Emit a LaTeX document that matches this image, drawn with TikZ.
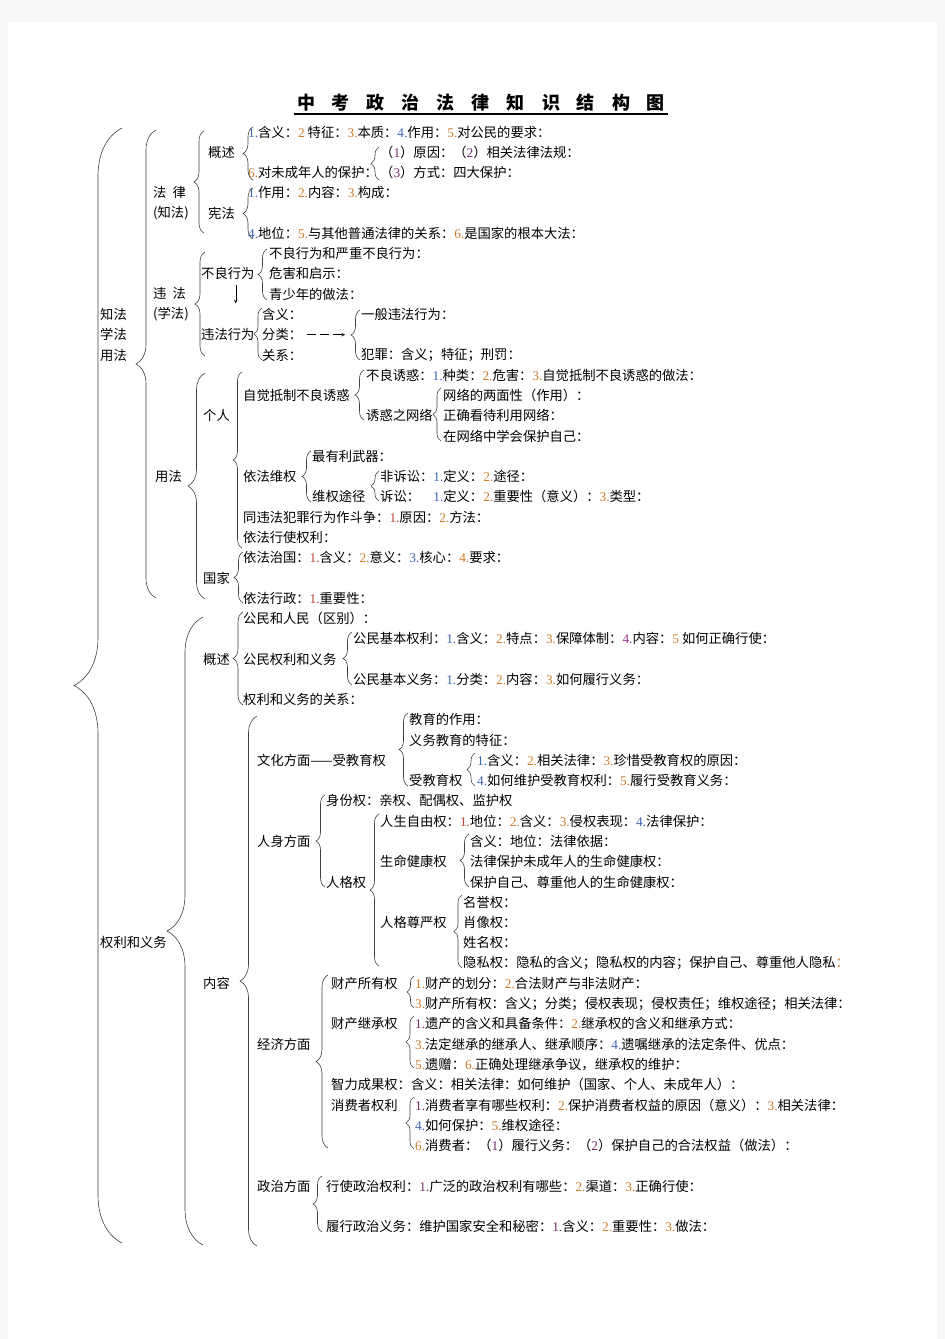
\documentclass[tikz,border=0pt]{standalone}
\usepackage{fontspec}
\setmainfont{Noto Sans CJK SC}
\newfontfamily\numf{Liberation Serif}
\usetikzlibrary{decorations.pathreplacing}

\definecolor{numblue}{RGB}{60,100,185}
\definecolor{numorange}{RGB}{205,125,45}
\definecolor{numpurple}{RGB}{115,45,105}
\definecolor{numred}{RGB}{190,70,50}
\definecolor{nummag}{RGB}{165,50,140}
\newcommand{\nb}[1]{{\numf\color{numblue}#1}}
\newcommand{\no}[1]{{\numf\color{numorange}#1}}
\newcommand{\np}[1]{{\numf\color{numpurple}#1}}
\newcommand{\nr}[1]{{\numf\color{numred}#1}}
\newcommand{\nm}[1]{{\numf\color{nummag}#1}}
\newcommand{\ry}[1]{132+20.27*#1}
\newcommand{\tsp}{\hspace{17pt}}
\newcommand{\brc}[4]{\draw[brc=#4] (#1,#3) -- (#1,#2);}

\tikzset{
  txt/.style={anchor=west, inner sep=0pt, font=\fontsize{13.3}{20.27}\selectfont},
  brc/.style={decorate, decoration={brace, amplitude=#1}, draw=black!75, line width=0.6pt},
}

\begin{document}
\begin{tikzpicture}[x=1pt, y=-1pt]
  \useasboundingbox (0,0) rectangle (945,1339);
  \fill[gray!6] (0,0) rectangle (945,1339);
  \fill[white] (8,22) rectangle (937,1339);

  % title
  \node[inner sep=0pt, font=\fontsize{18}{20}\selectfont\bfseries] (title) at (481,103)
    {中\tsp 考\tsp 政\tsp 治\tsp 法\tsp 律\tsp 知\tsp 识\tsp 结\tsp 构\tsp 图};
  \draw[line width=1.6pt] ([xshift=-3pt,yshift=-2pt]title.south west) -- ([xshift=3pt,yshift=-2pt]title.south east);

  % first levels
  \node[txt, align=left] (zxy) at (100,{\ry{10}}) {知法\\学法\\用法};
  \node[txt] (qy) at (100,{\ry{40}}) {权利和义务};
  \node[txt, align=left] (falv) at (153,{\ry{3.5}}) {法\hspace{6pt}律\\(知法)};
  \node[txt, align=left] (weifa) at (153,{\ry{8.5}}) {违\hspace{6pt}法\\(学法)};
  \node[txt] (yf) at (155,{\ry{17}}) {用法};

  % 法律
  \node[txt] (gs1) at (208,{\ry{1}}) {概述};
  \node[txt] (n1a) at (248,{\ry{0}}) {\nb{1.}含义：\no{2} 特征：\no{3.}本质：\nb{4.}作用：\no{5.}对公民的要求：};
  \node[txt] (n1b) at (380,{\ry{1}}) {（\np{1}）原因：（\np{2}）相关法律法规：};
  \node[txt] (n1c) at (248,{\ry{2}}) {\no{6.}对未成年人的保护：};
  \node[txt] (n1d) at (380,{\ry{2}}) {（\np{3}）方式：四大保护：};
  \node[txt] (xianfa) at (208,{\ry{4}}) {宪法};
  \node[txt] (xf1) at (248,{\ry{3}}) {\nb{1.}作用：\no{2.}内容：\no{3.}构成：};
  \node[txt] (xf2) at (248,{\ry{5}}) {\nb{4.}地位：\no{5.}与其他普通法律的关系：\no{6.}是国家的根本大法：};

  % 违法
  \node[txt] (bl) at (201,{\ry{7}}) {不良行为};
  \node[txt] (bl1) at (269,{\ry{6}}) {不良行为和严重不良行为：};
  \node[txt] (bl2) at (269,{\ry{7}}) {危害和启示：};
  \node[txt] (bl3) at (269,{\ry{8}}) {青少年的做法：};
  \node[txt] (wfxw) at (201,{\ry{10}}) {违法行为};
  \node[txt] (wf1) at (262,{\ry{9}}) {含义：};
  \node[txt] (wf2) at (262,{\ry{10}}) {分类：};
  \node[txt] (wf3) at (262,{\ry{11}}) {关系：};
  \node[txt] (wf4) at (361,{\ry{9}}) {一般违法行为：};
  \node[txt] (wf5) at (361,{\ry{11}}) {犯罪：含义；特征；刑罚：};
  \coordinate (fltip) at (351,{\ry{10}});

  % 用法 - 个人
  \node[txt] (gr) at (203,{\ry{14}}) {个人};
  \node[txt] (zj) at (243,{\ry{13}}) {自觉抵制不良诱惑};
  \node[txt] (yh1) at (366,{\ry{12}}) {不良诱惑：\nb{1.}种类：\no{2.}危害：\no{3.}自觉抵制不良诱惑的做法：};
  \node[txt] (yh2) at (366,{\ry{14}}) {诱惑之网络};
  \node[txt] (wl1) at (443,{\ry{13}}) {网络的两面性（作用）：};
  \node[txt] (wl2) at (443,{\ry{14}}) {正确看待利用网络：};
  \node[txt] (wl3) at (443,{\ry{15}}) {在网络中学会保护自己：};
  \node[txt] (wq) at (243,{\ry{17}}) {依法维权};
  \node[txt] (wq1) at (312,{\ry{16}}) {最有利武器：};
  \node[txt] (wq2) at (312,{\ry{18}}) {维权途径};
  \node[txt] (ss1) at (380,{\ry{17}}) {非诉讼：\nb{1.}定义：\no{2.}途径：};
  \node[txt] (ss2) at (380,{\ry{18}}) {诉讼：\hspace{13.3pt}\nb{1.}定义：\no{2.}重要性（意义）：\no{3.}类型：};
  \node[txt] (dz) at (243,{\ry{19}}) {同违法犯罪行为作斗争：\nr{1.}原因：\no{2.}方法：};
  \node[txt] (xs) at (243,{\ry{20}}) {依法行使权利：};

  % 用法 - 国家
  \node[txt] (gj) at (203,{\ry{22}}) {国家};
  \node[txt] (zg) at (243,{\ry{21}}) {依法治国：\nr{1.}含义：\no{2.}意义：\nb{3.}核心：\no{4.}要求：};
  \node[txt] (xz) at (243,{\ry{23}}) {依法行政：\nr{1.}重要性：};

  % 权利和义务 - 概述
  \node[txt] (gs2) at (203,{\ry{26}}) {概述};
  \node[txt] (gm1) at (243,{\ry{24}}) {公民和人民（区别）：};
  \node[txt] (gm2) at (243,{\ry{26}}) {公民权利和义务};
  \node[txt] (gm3) at (353,{\ry{25}}) {公民基本权利：\nb{1.}含义：\no{2.}特点：\no{3.}保障体制：\nm{4.}内容：\no{5} 如何正确行使：};
  \node[txt] (gm4) at (353,{\ry{27}}) {公民基本义务：\nb{1.}分类：\no{2.}内容：\no{3.}如何履行义务：};
  \node[txt] (gm5) at (243,{\ry{28}}) {权利和义务的关系：};

  % 内容 - 文化
  \node[txt] (nr) at (203,{\ry{42}}) {内容};
  \node[txt] (wh) at (257,{\ry{31}}) {文化方面——受教育权};
  \node[txt] (jy1) at (409,{\ry{29}}) {教育的作用：};
  \node[txt] (jy2) at (409,{\ry{30}}) {义务教育的特征：};
  \node[txt] (jy3) at (409,{\ry{32}}) {受教育权};
  \node[txt] (jy4) at (477,{\ry{31}}) {\nb{1.}含义：\no{2.}相关法律：\no{3.}珍惜受教育权的原因：};
  \node[txt] (jy5) at (477,{\ry{32}}) {\nb{4.}如何维护受教育权利：\no{5.}履行受教育义务：};

  % 内容 - 人身
  \node[txt] (rs) at (257,{\ry{35}}) {人身方面};
  \node[txt] (sf) at (326,{\ry{33}}) {身份权：亲权、配偶权、监护权};
  \node[txt] (rg) at (326,{\ry{37}}) {人格权};
  \node[txt] (zy) at (380,{\ry{34}}) {人生自由权：\nr{1.}地位：\no{2.}含义：\no{3.}侵权表现：\nb{4.}法律保护：};
  \node[txt] (sm) at (380,{\ry{36}}) {生命健康权};
  \node[txt] (sm1) at (470,{\ry{35}}) {含义：地位：法律依据：};
  \node[txt] (sm2) at (470,{\ry{36}}) {法律保护未成年人的生命健康权：};
  \node[txt] (sm3) at (470,{\ry{37}}) {保护自己、尊重他人的生命健康权：};
  \node[txt] (zyq) at (380,{\ry{39}}) {人格尊严权};
  \node[txt] (zy1) at (463,{\ry{38}}) {名誉权：};
  \node[txt] (zy2) at (463,{\ry{39}}) {肖像权：};
  \node[txt] (zy3) at (463,{\ry{40}}) {姓名权：};
  \node[txt] (zy4) at (463,{\ry{41}}) {隐私权：隐私的含义；隐私权的内容；保护自己、尊重他人隐私{\color{numorange}：}};

  % 内容 - 经济
  \node[txt] (jj) at (257,{\ry{45}}) {经济方面};
  \node[txt] (cc) at (331,{\ry{42}}) {财产所有权};
  \node[txt] (cc1) at (415,{\ry{42}}) {\no{1.}财产的划分：\no{2.}合法财产与非法财产：};
  \node[txt] (cc2) at (415,{\ry{43}}) {\no{3.}财产所有权：含义；分类；侵权表现；侵权责任；维权途径；相关法律：};
  \node[txt] (jc) at (331,{\ry{44}}) {财产继承权};
  \node[txt] (jc1) at (415,{\ry{44}}) {\np{1.}遗产的含义和具备条件：\no{2.}继承权的含义和继承方式：};
  \node[txt] (jc2) at (415,{\ry{45}}) {\no{3.}法定继承的继承人、继承顺序：\nb{4.}遗嘱继承的法定条件、优点：};
  \node[txt] (jc3) at (415,{\ry{46}}) {\no{5.}遗赠：\no{6.}正确处理继承争议，继承权的维护：};
  \node[txt] (zl) at (331,{\ry{47}}) {智力成果权：含义：相关法律：如何维护（国家、个人、未成年人）：};
  \node[txt] (xfz) at (331,{\ry{48}}) {消费者权利};
  \node[txt] (xfz1) at (415,{\ry{48}}) {\np{1.}消费者享有哪些权利：\no{2.}保护消费者权益的原因（意义）：\no{3.}相关法律：};
  \node[txt] (xfz2) at (415,{\ry{49}}) {\nb{4.}如何保护：\no{5.}维权途径：};
  \node[txt] (xfz3) at (415,{\ry{50}}) {\no{6.}消费者：（\np{1}）履行义务：（\np{2}）保护自己的合法权益（做法）：};

  % 内容 - 政治
  \node[txt] (zz) at (257,{\ry{52}}) {政治方面};
  \node[txt] (zz1) at (326,{\ry{52}}) {行使政治权利：\np{1.}广泛的政治权利有哪些：\no{2.}渠道：\no{3.}正确行使：};
  \node[txt] (zz2) at (326,{\ry{54}}) {履行政治义务：维护国家安全和秘密：\np{1.}含义：\no{2.}重要性：\no{3.}做法：};

  % braces
  \brc{122}{128}{1243}{48}
  \brc{156}{130}{598}{20}
  \brc{204}{131}{233}{10}
  \brc{205}{252}{356}{10}
  \brc{205}{373}{599}{17}
  \brc{253}{127}{180}{10}
  \brc{379}{147}{180}{8}
  \brc{253}{188}{239}{10}
  \brc{267}{249}{300}{9}
  \brc{262}{308}{360}{8}
  \brc{360}{310}{360}{9}
  \brc{242}{372}{548}{9}
  \brc{364}{370}{420}{9}
  \brc{441}{388}{441}{8}
  \brc{311}{451}{502}{9}
  \brc{379}{471}{501}{8}
  \brc{243}{552}{603}{9}
  \brc{203}{617}{1245}{36}
  \brc{243}{612}{705}{10}
  \brc{352}{632}{685}{9}
  \brc{257}{716}{1246}{17}
  \brc{408}{713}{786}{9}
  \brc{475}{753}{786}{8}
  \brc{325}{795}{887}{9}
  \brc{379}{814}{966}{9}
  \brc{469}{834}{887}{9}
  \brc{462}{895}{968}{8}
  \brc{328}{975}{1148}{12}
  \brc{414}{976}{1008}{7}
  \brc{414}{1016}{1068}{8}
  \brc{414}{1097}{1149}{8}
  \brc{322}{1176}{1232}{9}

  % arrows
  \draw[-stealth, line width=0.6pt, shorten <=5pt, shorten >=25pt] ([xshift=8pt]bl.south) -- ([xshift=8pt]wfxw.north);
  \draw[-stealth, line width=0.6pt, dash pattern=on 9pt off 4pt, shorten >=6pt] ([xshift=5pt]wf2.east) -- (fltip);
\end{tikzpicture}
\end{document}
